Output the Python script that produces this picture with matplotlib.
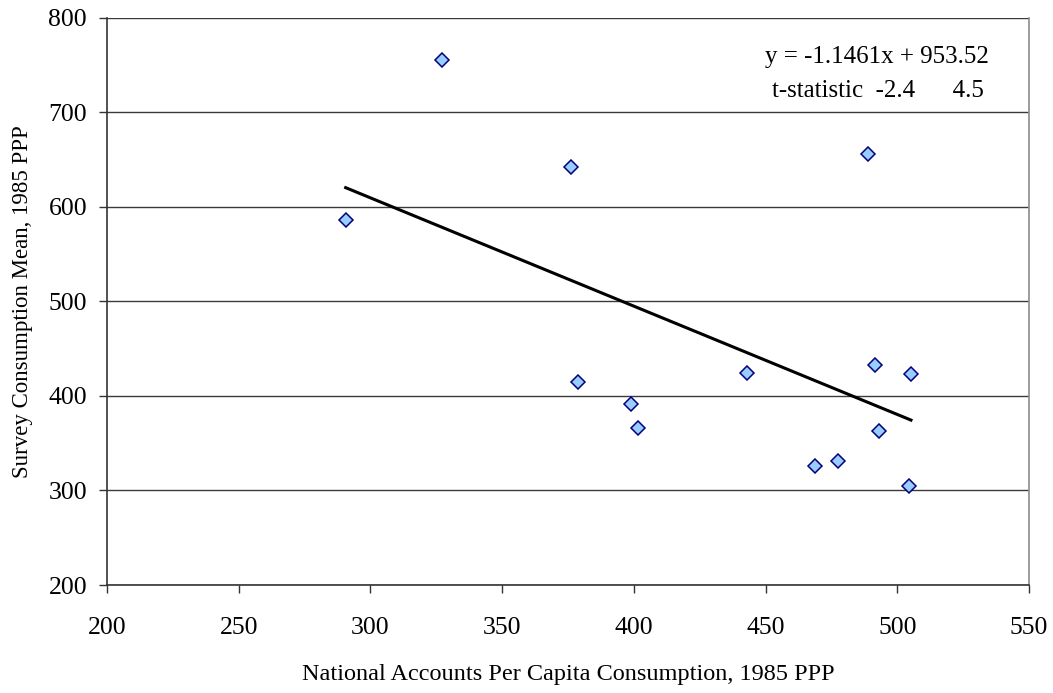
import numpy as np
import matplotlib
matplotlib.use("Agg")
import matplotlib.pyplot as plt

# ---- data ----
na_consumption = [290.6, 327.2, 376.2, 378.9, 399.0, 401.4, 443.0,
                  468.6, 477.6, 488.9, 491.5, 493.2, 504.6, 505.2]
survey_mean = [585.9, 755.9, 642.0, 415.1, 391.2, 366.1, 424.3,
               326.3, 331.2, 656.1, 433.1, 363.0, 304.8, 423.0]

# trendline as printed on the chart
slope = -1.1461
intercept = 953.52
t_slope = -2.4
t_intercept = 4.5

x_ticks = [200, 250, 300, 350, 400, 450, 500, 550]
y_ticks = [200, 300, 400, 500, 600, 700, 800]

plt.rcParams['font.family'] = ['Liberation Serif', 'DejaVu Serif']

fig = plt.figure(figsize=(10.53, 6.93), dpi=100)
ax = fig.add_axes([107/1053, 1 - 585/693, (1029 - 107)/1053, (585 - 18)/693])

# gridlines
ax.set_axisbelow(True)
ax.yaxis.grid(True, color='#3a3a3a', linewidth=1.0)

# scatter points
ax.plot(na_consumption, survey_mean, linestyle='none', marker='D', ms=7,
        markerfacecolor='#99ccff', markeredgecolor='#000080', mew=1.1, zorder=3)

# linear trend over the range of the data
xs = np.array([min(na_consumption), max(na_consumption)])
ax.plot(xs, slope * xs + intercept, color='black', linewidth=2.2, zorder=2)

# equation box text (Excel-style trendline label)
ax.text(0.835, 0.920, f'y = {slope:.4f}x + {intercept:.2f}', transform=ax.transAxes,
        ha='center', va='baseline', fontsize=18)
ax.text(0.836, 0.861, f't-statistic  {t_slope:.1f}      {t_intercept:.1f}',
        transform=ax.transAxes, ha='center', va='baseline', fontsize=18)

ax.set_xlim(200, 550)
ax.set_ylim(200, 800)
ax.set_xticks(x_ticks)
ax.set_yticks(y_ticks)
ax.tick_params(axis='both', direction='out', length=6, width=1, color='#333333',
               labelsize=18.5)
ax.tick_params(axis='x', pad=17)
ax.tick_params(axis='y', pad=8.4)

for side in ['left', 'bottom']:
    ax.spines[side].set_color('#333333')
    ax.spines[side].set_linewidth(1.2)
ax.spines['right'].set_color('#8c8c8c')
ax.spines['right'].set_linewidth(1.2)
ax.spines['top'].set_visible(False)

ax.set_xlabel('National Accounts Per Capita Consumption, 1985 PPP', fontsize=17.5, labelpad=18)
ax.set_ylabel('Survey Consumption Mean, 1985 PPP', fontsize=16.5, labelpad=11)

fig.savefig('out.png', dpi=100)
